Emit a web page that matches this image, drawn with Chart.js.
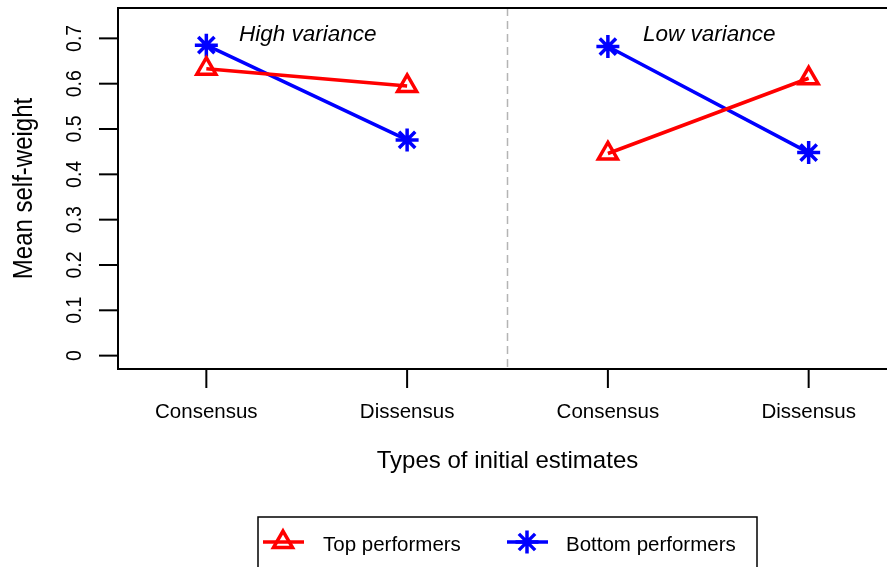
<!DOCTYPE html>
<html>
<head>
<meta charset="utf-8">
<script src="https://cdn.jsdelivr.net/npm/chart.js@4/dist/chart.umd.min.js"></script>
<style>
  html, body { margin: 0; padding: 0; background: #fff; overflow: hidden; }
  canvas { display: block; }
</style>
</head>
<body>
<canvas id="chart" width="910" height="567"></canvas>
<script>
const categories = ["Consensus", "Dissensus", "Consensus", "Dissensus"];
const panels = ["High variance", "Low variance"];
const topPerformers = [0.633, 0.595, 0.446, 0.612];
const bottomPerformers = [0.685, 0.476, 0.682, 0.448];
const yTicks = [0, 0.1, 0.2, 0.3, 0.4, 0.5, 0.6, 0.7];
const seriesNames = ["Top performers", "Bottom performers"];

const FONT = "'Liberation Sans', Arial, sans-serif";
const RED = "#ff0000";
const BLUE = "#0000ff";

// two panels -> break the line between position 2 and 3
function toPoints(values) {
  const pts = [];
  values.forEach((v, i) => {
    if (i === 2) pts.push({ x: 2.5, y: null });
    pts.push({ x: i + 1, y: v });
  });
  return pts;
}

function drawTriangle(ctx, x, y, r) {
  ctx.beginPath();
  ctx.moveTo(x, y - r);
  ctx.lineTo(x + r * Math.sin(Math.PI / 3), y + r / 2);
  ctx.lineTo(x - r * Math.sin(Math.PI / 3), y + r / 2);
  ctx.closePath();
  ctx.stroke();
}

function drawStar(ctx, x, y, r) {
  ctx.beginPath();
  for (let k = 0; k < 4; k++) {
    const a = k * Math.PI / 4;
    ctx.moveTo(x - Math.cos(a) * r, y - Math.sin(a) * r);
    ctx.lineTo(x + Math.cos(a) * r, y + Math.sin(a) * r);
  }
  ctx.stroke();
}

const rPlot = {
  id: "rPlot",
  beforeDatasetsDraw(chart) {
    const { ctx, chartArea: a, scales: { x } } = chart;
    ctx.save();
    ctx.strokeStyle = "#b4b4b4";
    ctx.lineWidth = 1.5;
    ctx.setLineDash([8, 5]);
    const px = x.getPixelForValue(2.5);
    ctx.beginPath();
    ctx.moveTo(px, a.top);
    ctx.lineTo(px, a.bottom);
    ctx.stroke();
    ctx.restore();
  },
  afterDraw(chart) {
    const { ctx, chartArea: a, scales: { x, y } } = chart;
    ctx.save();
    ctx.strokeStyle = "#000";
    ctx.fillStyle = "#000";
    ctx.lineWidth = 2;
    ctx.strokeRect(a.left, a.top, a.right - a.left, a.bottom - a.top);

    // y axis
    yTicks.forEach(v => {
      const py = y.getPixelForValue(v);
      ctx.beginPath();
      ctx.moveTo(a.left - 19, py);
      ctx.lineTo(a.left, py);
      ctx.stroke();
      ctx.save();
      ctx.translate(81, py);
      ctx.rotate(-Math.PI / 2);
      ctx.scale(1, 1.15);
      ctx.font = "19.5px " + FONT;
      ctx.textAlign = "center";
      ctx.textBaseline = "alphabetic";
      ctx.fillText(String(v), 0, 0);
      ctx.restore();
    });

    // x axis
    categories.forEach((c, i) => {
      const px = x.getPixelForValue(i + 1);
      ctx.beginPath();
      ctx.moveTo(px, a.bottom);
      ctx.lineTo(px, a.bottom + 19);
      ctx.stroke();
      ctx.font = "20.5px " + FONT;
      ctx.textAlign = "center";
      ctx.textBaseline = "alphabetic";
      ctx.fillText(c, px, 418);
    });

    // axis titles
    ctx.font = "24px " + FONT;
    ctx.textAlign = "center";
    ctx.fillText("Types of initial estimates", x.getPixelForValue(2.5), 468);
    ctx.save();
    ctx.translate(32, (a.top + a.bottom) / 2);
    ctx.rotate(-Math.PI / 2);
    ctx.scale(1, 1.15);
    ctx.fillText("Mean self-weight", 0, 0);
    ctx.restore();

    // panel labels
    ctx.font = "italic 22.5px " + FONT;
    panels.forEach((p, i) => {
      ctx.fillText(p, x.getPixelForValue(1.5 + 2 * i) + 1, 40.5);
    });

    // legend
    ctx.lineWidth = 1.5;
    ctx.strokeRect(258, 517, 499, 80);
    const items = [
      { name: seriesNames[0], color: RED, cx: 283, tx: 323, shape: "tri" },
      { name: seriesNames[1], color: BLUE, cx: 527, tx: 566, shape: "star" }
    ];
    const ly = 542;
    items.forEach(it => {
      ctx.strokeStyle = it.color;
      ctx.lineWidth = 3.5;
      ctx.beginPath();
      ctx.moveTo(it.cx - 20, ly);
      ctx.lineTo(it.cx + 21, ly);
      ctx.stroke();
      if (it.shape === "tri") drawTriangle(ctx, it.cx, ly, 11);
      else drawStar(ctx, it.cx, ly, 11.5);
      ctx.fillStyle = "#000";
      ctx.font = "20.5px " + FONT;
      ctx.textAlign = "left";
      ctx.fillText(it.name, it.tx, 551);
    });
    ctx.restore();
  }
};

new Chart(document.getElementById("chart"), {
  type: "line",
  data: {
    datasets: [
      {
        label: seriesNames[0],
        data: toPoints(topPerformers),
        borderColor: RED,
        borderWidth: 3.5,
        pointStyle: "triangle",
        pointRadius: 11,
        pointBorderWidth: 3.5,
        pointBorderColor: RED,
        pointBackgroundColor: "rgba(0,0,0,0)",
        spanGaps: false
      },
      {
        label: seriesNames[1],
        data: toPoints(bottomPerformers),
        borderColor: BLUE,
        borderWidth: 3.5,
        pointStyle: "star",
        pointRadius: 11.5,
        pointBorderWidth: 3.5,
        pointBorderColor: BLUE,
        pointBackgroundColor: "rgba(0,0,0,0)",
        spanGaps: false
      }
    ]
  },
  options: {
    responsive: false,
    animation: false,
    layout: { autoPadding: false, padding: { left: 118, top: 8, right: 13, bottom: 198 } },
    plugins: { legend: { display: false }, tooltip: { enabled: false } },
    elements: { line: { tension: 0 } },
    scales: {
      x: { type: "linear", min: 0.56, max: 4.44, display: false },
      y: { min: -0.0295, max: 0.767, display: false }
    }
  },
  plugins: [rPlot]
});
</script>
</body>
</html>
